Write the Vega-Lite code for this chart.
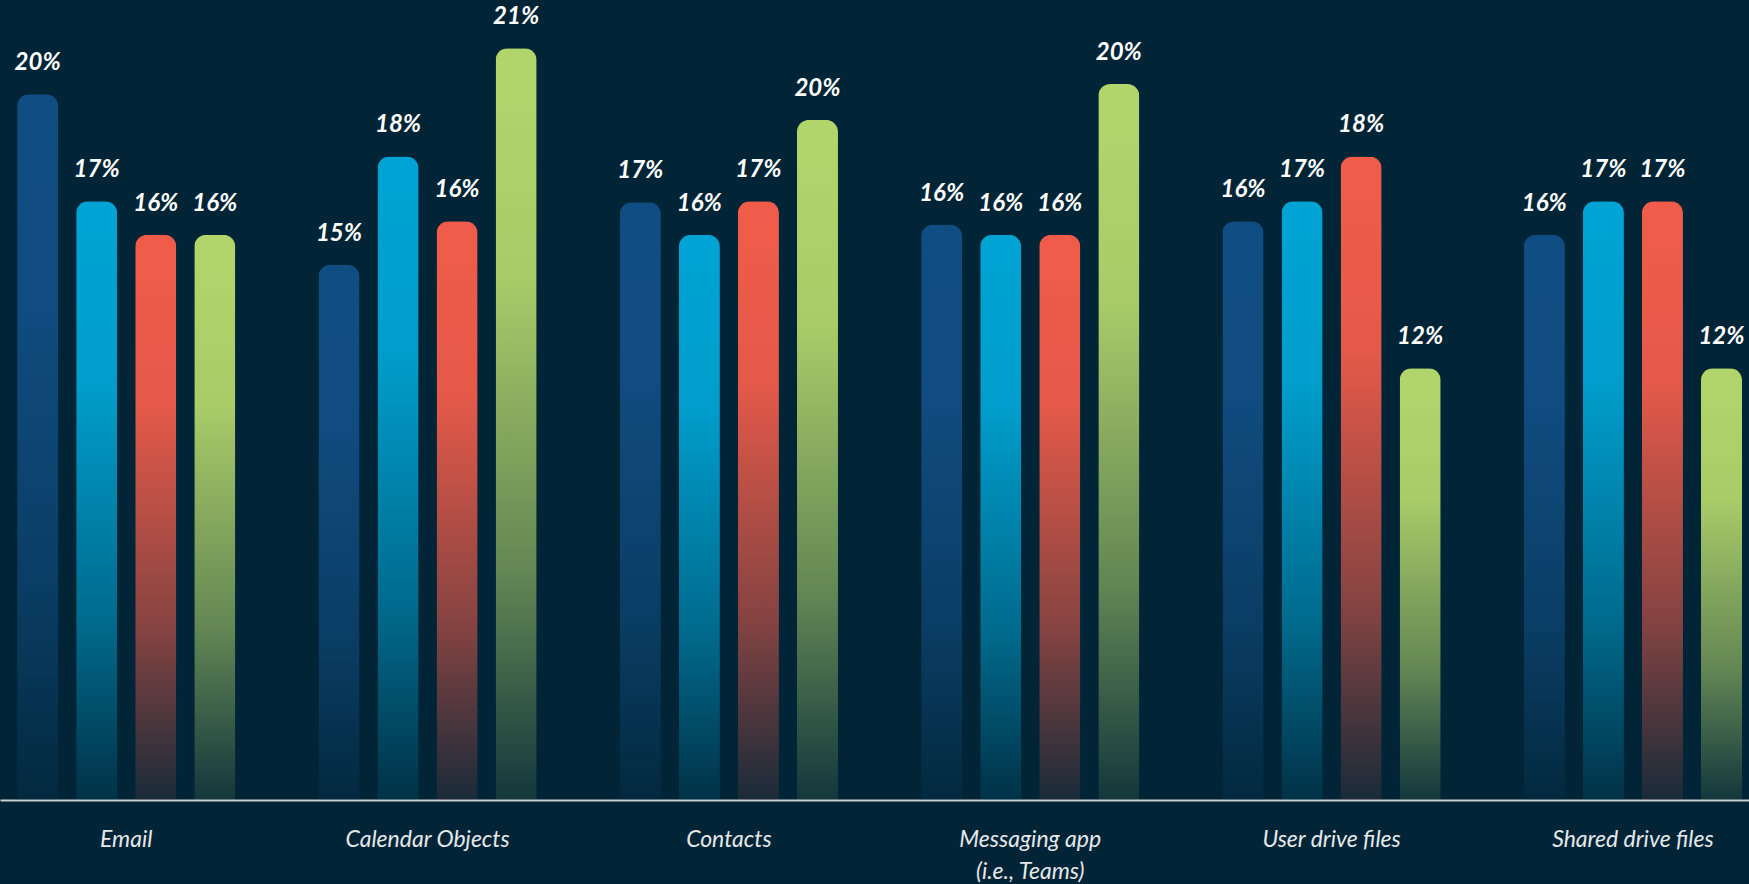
{
  "$schema": "https://vega.github.io/schema/vega-lite/v6.json",
  "width": 1749,
  "height": 884,
  "autosize": {"type": "fit", "contains": "padding"},
  "padding": 0,
  "background": "#012537",
  "config": {"view": {"stroke": null}},
  "data": {
    "values": [
      {"cat": "Email", "series": "S1", "value": 19.72, "label": "20%"},
      {"cat": "Email", "series": "S2", "value": 16.73, "label": "17%"},
      {"cat": "Email", "series": "S3", "value": 15.79, "label": "16%"},
      {"cat": "Email", "series": "S4", "value": 15.79, "label": "16%"},
      {"cat": "Calendar Objects", "series": "S1", "value": 14.95, "label": "15%"},
      {"cat": "Calendar Objects", "series": "S2", "value": 17.98, "label": "18%"},
      {"cat": "Calendar Objects", "series": "S3", "value": 16.17, "label": "16%"},
      {"cat": "Calendar Objects", "series": "S4", "value": 21.0, "label": "21%"},
      {"cat": "Contacts", "series": "S1", "value": 16.7, "label": "17%"},
      {"cat": "Contacts", "series": "S2", "value": 15.79, "label": "16%"},
      {"cat": "Contacts", "series": "S3", "value": 16.73, "label": "17%"},
      {"cat": "Contacts", "series": "S4", "value": 19.0, "label": "20%"},
      {"cat": "Messaging app (i.e., Teams)", "series": "S1", "value": 16.07, "label": "16%"},
      {"cat": "Messaging app (i.e., Teams)", "series": "S2", "value": 15.79, "label": "16%"},
      {"cat": "Messaging app (i.e., Teams)", "series": "S3", "value": 15.79, "label": "16%"},
      {"cat": "Messaging app (i.e., Teams)", "series": "S4", "value": 20.0, "label": "20%"},
      {"cat": "User drive files", "series": "S1", "value": 16.17, "label": "16%"},
      {"cat": "User drive files", "series": "S2", "value": 16.73, "label": "17%"},
      {"cat": "User drive files", "series": "S3", "value": 17.98, "label": "18%"},
      {"cat": "User drive files", "series": "S4", "value": 12.06, "label": "12%"},
      {"cat": "Shared drive files", "series": "S1", "value": 15.79, "label": "16%"},
      {"cat": "Shared drive files", "series": "S2", "value": 16.73, "label": "17%"},
      {"cat": "Shared drive files", "series": "S3", "value": 16.73, "label": "17%"},
      {"cat": "Shared drive files", "series": "S4", "value": 12.06, "label": "12%"}
    ]
  },
  "encoding": {
    "x": {
      "field": "cat",
      "type": "nominal",
      "title": null,
      "scale": {
        "domain": ["Email", "Calendar Objects", "Contacts", "Messaging app (i.e., Teams)", "User drive files", "Shared drive files"],
        "paddingInner": 0.276,
        "paddingOuter": 0.04,
        "align": 0.71
      },
      "axis": {
        "labelAngle": 0,
        "ticks": false,
        "domainColor": "#c9cdd0",
        "domainWidth": 2,
        "labelFont": "Lato",
        "labelFontStyle": "italic",
        "labelFontSize": 23,
        "labelColor": "#e6e8ea",
        "labelPadding": 28,
        "labelLineHeight": 32,
        "labelExpr": "datum.label == 'Messaging app (i.e., Teams)' ? ['Messaging app', '(i.e., Teams)'] : datum.label",
        "minExtent": 84,
        "maxExtent": 84
      }
    },
    "xOffset": {
      "field": "series",
      "type": "nominal",
      "scale": {"domain": ["S1", "S2", "S3", "S4"], "paddingInner": 0.305, "paddingOuter": 0}
    },
    "y": {
      "field": "value",
      "type": "quantitative",
      "scale": {"domain": [0, 22.35], "nice": false},
      "axis": null
    }
  },
  "layer": [
    {
      "transform": [{"filter": "datum.series == 'S1'"}],
      "mark": {
        "type": "bar",
        "cornerRadiusTopLeft": 12,
        "cornerRadiusTopRight": 12,
        "color": {
          "gradient": "linear", "x1": 0, "y1": 0, "x2": 0, "y2": 1,
          "stops": [
            {"offset": 0, "color": "rgba(16,77,130,1)"},
            {"offset": 0.3, "color": "rgba(16,77,130,0.97)"},
            {"offset": 0.7, "color": "rgba(16,77,130,0.6)"},
            {"offset": 1, "color": "rgba(16,77,130,0.1)"}
          ]
        }
      }
    },
    {
      "transform": [{"filter": "datum.series == 'S2'"}],
      "mark": {
        "type": "bar",
        "cornerRadiusTopLeft": 12,
        "cornerRadiusTopRight": 12,
        "color": {
          "gradient": "linear", "x1": 0, "y1": 0, "x2": 0, "y2": 1,
          "stops": [
            {"offset": 0, "color": "rgba(0,164,212,1)"},
            {"offset": 0.3, "color": "rgba(0,164,212,0.95)"},
            {"offset": 0.7, "color": "rgba(0,164,212,0.55)"},
            {"offset": 1, "color": "rgba(0,164,212,0.1)"}
          ]
        }
      }
    },
    {
      "transform": [{"filter": "datum.series == 'S3'"}],
      "mark": {
        "type": "bar",
        "cornerRadiusTopLeft": 12,
        "cornerRadiusTopRight": 12,
        "color": {
          "gradient": "linear", "x1": 0, "y1": 0, "x2": 0, "y2": 1,
          "stops": [
            {"offset": 0, "color": "rgba(241,92,74,1)"},
            {"offset": 0.3, "color": "rgba(241,92,74,0.95)"},
            {"offset": 0.7, "color": "rgba(241,92,74,0.55)"},
            {"offset": 1, "color": "rgba(241,92,74,0.1)"}
          ]
        }
      }
    },
    {
      "transform": [{"filter": "datum.series == 'S4'"}],
      "mark": {
        "type": "bar",
        "cornerRadiusTopLeft": 12,
        "cornerRadiusTopRight": 12,
        "color": {
          "gradient": "linear", "x1": 0, "y1": 0, "x2": 0, "y2": 1,
          "stops": [
            {"offset": 0, "color": "rgba(178,213,107,1)"},
            {"offset": 0.3, "color": "rgba(178,213,107,0.95)"},
            {"offset": 0.7, "color": "rgba(178,213,107,0.55)"},
            {"offset": 1, "color": "rgba(178,213,107,0.1)"}
          ]
        }
      }
    },
    {
      "mark": {
        "type": "text",
        "baseline": "alphabetic",
        "dy": -24,
        "font": "Lato",
        "fontStyle": "italic",
        "fontWeight": "bold",
        "fontSize": 24,
        "color": "#ffffff"
      },
      "encoding": {"text": {"field": "label"}}
    }
  ]
}
